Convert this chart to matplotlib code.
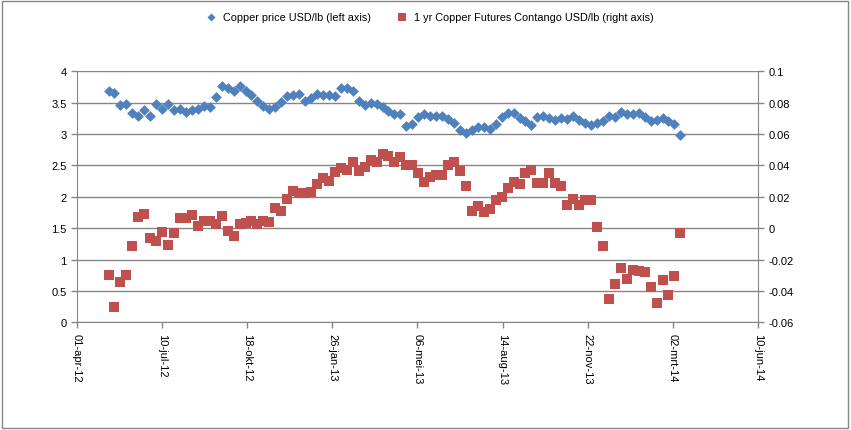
import numpy as np
import pandas as pd
import matplotlib
matplotlib.use("Agg")
import matplotlib.pyplot as plt
import matplotlib.dates as mdates
from matplotlib.patches import Rectangle

plt.rcParams['font.family'] = ['Liberation Sans', 'DejaVu Sans']

# weekly observations
datums = pd.date_range('2012-05-08', periods=97, freq='7D')

koper_prijs = [3.69, 3.65, 3.47, 3.48, 3.33, 3.28, 3.38, 3.29, 3.48, 3.40,
               3.48, 3.39, 3.40, 3.35, 3.38, 3.40, 3.44, 3.43, 3.59, 3.77,
               3.73, 3.69, 3.76, 3.68, 3.62, 3.52, 3.45, 3.40, 3.43, 3.51,
               3.61, 3.62, 3.64, 3.52, 3.57, 3.64, 3.62, 3.62, 3.60, 3.73,
               3.74, 3.68, 3.52, 3.46, 3.49, 3.48, 3.43, 3.37, 3.32, 3.32,
               3.13, 3.16, 3.27, 3.32, 3.28, 3.28, 3.28, 3.24, 3.18, 3.06,
               3.02, 3.07, 3.12, 3.11, 3.08, 3.16, 3.27, 3.33, 3.34, 3.25,
               3.21, 3.15, 3.27, 3.29, 3.25, 3.23, 3.25, 3.24, 3.28, 3.23,
               3.18, 3.14, 3.18, 3.21, 3.29, 3.27, 3.35, 3.32, 3.32, 3.34,
               3.27, 3.20, 3.23, 3.25, 3.21, 3.16, 2.99]

contango = [-0.0298, -0.0505, -0.0345, -0.0298, -0.0116, 0.0069, 0.0091, -0.0065, -0.0080, -0.0026,
            -0.0107, -0.0031, 0.0063, 0.0063, 0.0084, 0.0012, 0.0048, 0.0048, 0.0027, 0.0076,
            -0.0016, -0.0048, 0.0027, 0.0034, 0.0048, 0.0027, 0.0048, 0.0038, 0.0127, 0.0112,
            0.0186, 0.0235, 0.0224, 0.0224, 0.0233, 0.0282, 0.0318, 0.0299, 0.0360, 0.0382,
            0.0371, 0.0420, 0.0367, 0.0388, 0.0435, 0.0424, 0.0473, 0.0458, 0.0424, 0.0452,
            0.0403, 0.0403, 0.0352, 0.0297, 0.0324, 0.0339, 0.0339, 0.0403, 0.0420, 0.0367,
            0.0267, 0.0108, 0.0144, 0.0101, 0.0122, 0.0182, 0.0201, 0.0254, 0.0297, 0.0282,
            0.0350, 0.0371, 0.0288, 0.0288, 0.0352, 0.0288, 0.0267, 0.0148, 0.0186, 0.0148,
            0.0180, 0.0180, 0.0006, -0.0116, -0.0451, -0.0358, -0.0256, -0.0324, -0.0267, -0.0271,
            -0.0277, -0.0377, -0.0477, -0.0330, -0.0426, -0.0307, -0.0031]

x_ticks = pd.to_datetime(['2012-04-01', '2012-07-10', '2012-10-18', '2013-01-26', '2013-05-06',
                          '2013-08-14', '2013-11-22', '2014-03-02', '2014-06-10'])
x_labels = ['01-apr-12', '10-jul-12', '18-okt-12', '26-jan-13', '06-mei-13',
            '14-aug-13', '22-nov-13', '02-mrt-14', '10-jun-14']
links_ticks = [0, 0.5, 1, 1.5, 2, 2.5, 3, 3.5, 4]
links_labels = ['0', '0.5', '1', '1.5', '2', '2.5', '3', '3.5', '4']
rechts_ticks = [-0.06, -0.04, -0.02, 0, 0.02, 0.04, 0.06, 0.08, 0.1]
rechts_labels = ['-0.06', '-0.04', '-0.02', '0', '0.02', '0.04', '0.06', '0.08', '0.1']

blauw = '#4F81BD'
rood = '#C0504D'
grijs = '#868686'

fig = plt.figure(figsize=(8.51, 4.31), dpi=100)
ax = fig.add_axes([0.0905, 0.2499, 0.8, 0.5824])
ax2 = ax.twinx()

ax.scatter(datums, koper_prijs, marker='D', s=30, color=blauw, linewidths=0, zorder=3,
           label='Copper price USD/lb (left axis)')
ax2.scatter(datums, contango, marker='s', s=62, color=rood, linewidths=0, zorder=3,
            label='1 yr Copper Futures Contango USD/lb (right axis)')

ax.set_xlim(x_ticks[0], x_ticks[-1])
ax.set_xticks(x_ticks)
ax.set_xticklabels(x_labels, rotation=270)
ax.set_ylim(0, 4)
ax.set_yticks(links_ticks)
ax.set_yticklabels(links_labels)
ax2.set_ylim(-0.06, 0.1)
ax2.set_yticks(rechts_ticks)
ax2.set_yticklabels(rechts_labels)

ax.grid(axis='y', color=grijs, linewidth=1)
ax.set_axisbelow(True)
for a in (ax, ax2):
    a.spines['top'].set_visible(False)
    for s in ('left', 'right', 'bottom'):
        a.spines[s].set_color(grijs)
    a.tick_params(colors=grijs, labelcolor='black', labelsize=8, length=4, width=1)
ax.spines['right'].set_visible(False)
ax2.spines['left'].set_visible(False)
ax2.spines['bottom'].set_visible(False)

fig.legend(loc='center', bbox_to_anchor=(0.502, 0.958), ncol=2, frameon=False,
           fontsize=7.8, handletextpad=0.1, columnspacing=1.9, markerscale=0.75)

fig.patches.append(Rectangle((0.002, 0.004), 0.994, 0.992, transform=fig.transFigure,
                             fill=False, edgecolor=grijs, linewidth=1))

fig.savefig('out.png', dpi=100)
